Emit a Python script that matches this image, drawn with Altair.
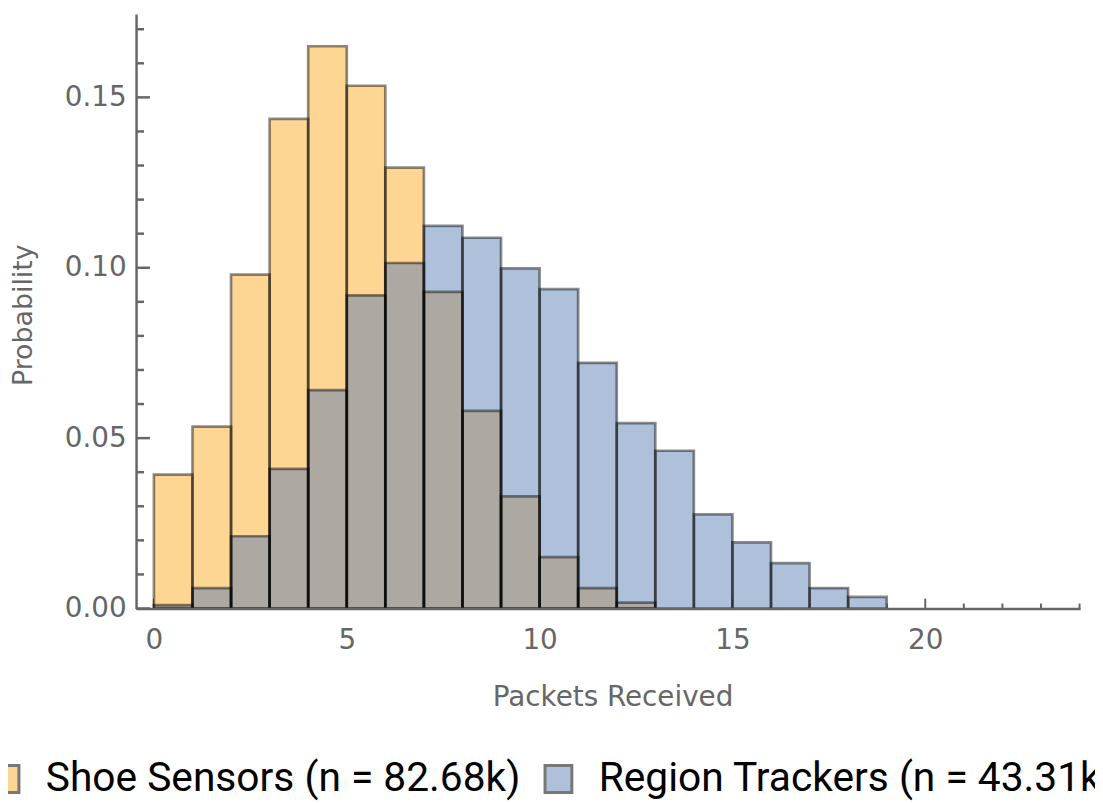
import altair as alt
import pandas as pd
import numpy as np

# ---- data ----
bin_starts = list(range(19))
shoe = [0.0393, 0.0534, 0.0980, 0.1437, 0.1650, 0.1534, 0.1294, 0.0929,
        0.0580, 0.0329, 0.0151, 0.0060, 0.0017]
region = [0.0010, 0.0060, 0.0212, 0.0410, 0.0641, 0.0919, 0.1014, 0.1123,
          0.1088, 0.0998, 0.0937, 0.0721, 0.0544, 0.0463, 0.0276, 0.0194,
          0.0133, 0.0060, 0.0034]
series_names = ["Shoe Sensors (n = 82.68k)", "Region Trackers (n = 43.31k)"]
series_colors = ["#FED694", "#AFC1DA"]
overlap_color = "#ADA9A2"

x_major = [0, 5, 10, 15, 20]
x_minor = [v for v in range(0, 25) if v % 5 != 0]
y_major = [0.0, 0.05, 0.10, 0.15]
y_minor = [round(v * 0.01, 2) for v in range(1, 18) if v % 5 != 0]

# ---- tables ----
rows = []
for name, vals in zip(series_names, [shoe, region]):
    for b, p in zip(bin_starts, vals):
        rows.append({"series": name, "start": b, "end": b + 1, "p": p})
df = pd.DataFrame(rows)

n_ov = min(len(shoe), len(region))
ov = pd.DataFrame({
    "start": bin_starts[:n_ov],
    "end": [b + 1 for b in bin_starts[:n_ov]],
    "p": np.minimum(shoe[:n_ov], region[:n_ov]),
})

W, H = 951, 599
xs = alt.Scale(domain=[-0.463, 24.015], nice=False, zero=False)
ys = alt.Scale(domain=[0, 0.1745], nice=False, zero=True)

AX = dict(labelFont="DejaVu Sans", labelFontSize=28, labelColor="#666666",
          titleFont="DejaVu Sans", titleColor="#666666", titleFontWeight="normal",
          domainColor="#666666", domainWidth=2.5, grid=False, ticks=False,
          tickSize=0, zindex=1, labelOverlap=False)
xaxis = alt.Axis(title="Packets Received", values=x_major, format="d",
                 labelPadding=18, labelFlush=False, titleFontSize=28,
                 titleX=480, titleY=98, titleBaseline="alphabetic", **AX)
yaxis = alt.Axis(title="Probability", values=y_major, format=".2f",
                 labelPadding=10, titleFontSize=27,
                 titleX=-105, titleY=303, titleBaseline="alphabetic", **AX)

X = alt.X("start:Q", scale=xs, axis=xaxis)
X2 = alt.X2("end:Q")
Y = alt.Y("p:Q", scale=ys, axis=yaxis, stack=None)
Y2 = alt.Y2(datum=0)

fills = alt.Chart(df).mark_bar(strokeWidth=0, opacity=1).encode(
    x=X, x2=X2, y=Y, y2=Y2,
    color=alt.Color("series:N",
                    scale=alt.Scale(domain=series_names, range=series_colors),
                    legend=alt.Legend(title=None, orient="none", legendX=-152,
                                      legendY=750, direction="horizontal",
                                      symbolType="square", symbolSize=729,
                                      symbolStrokeColor="#777777",
                                      symbolStrokeWidth=3, symbolOpacity=1,
                                      labelFont="Roboto", labelFontSize=41,
                                      labelColor="#000000", labelLimit=2000,
                                      labelOffset=20, columnPadding=17)),
)

overlap = alt.Chart(ov).mark_bar(color=overlap_color, strokeWidth=0).encode(
    x=X, x2=X2, y=Y, y2=Y2
)

outlines = alt.Chart(df).mark_bar(fillOpacity=0, stroke="#000000",
                                  strokeOpacity=0.45, strokeWidth=2.7).encode(
    x=X, x2=X2, y=Y, y2=Y2
)

# inward ticks
xt_major = alt.Chart(pd.DataFrame({"start": x_major})).mark_rule(
    color="#666666", strokeWidth=2).encode(
    x=X, y=alt.value(H), y2=alt.value(H - 10))
xt_minor = alt.Chart(pd.DataFrame({"start": x_minor})).mark_rule(
    color="#666666", strokeWidth=2).encode(
    x=X, y=alt.value(H), y2=alt.value(H - 5))
yt_major = alt.Chart(pd.DataFrame({"p": y_major})).mark_rule(
    color="#666666", strokeWidth=2.5).encode(
    y=alt.Y("p:Q", scale=ys, axis=yaxis), x=alt.value(0), x2=alt.value(14))
yt_minor = alt.Chart(pd.DataFrame({"p": y_minor})).mark_rule(
    color="#666666", strokeWidth=2.5).encode(
    y=alt.Y("p:Q", scale=ys, axis=yaxis), x=alt.value(0), x2=alt.value(8))

chart = alt.layer(
    xt_major, xt_minor, fills, overlap, outlines, yt_major, yt_minor
).properties(
    width=W, height=H,
    autosize=alt.AutoSizeParams(type="none"),
    padding={"left": 129, "top": 3, "right": 15, "bottom": 193},
    background="white",
).configure_view(stroke=None)

chart.save("out.html", embed_options={"renderer": "svg", "actions": False})
